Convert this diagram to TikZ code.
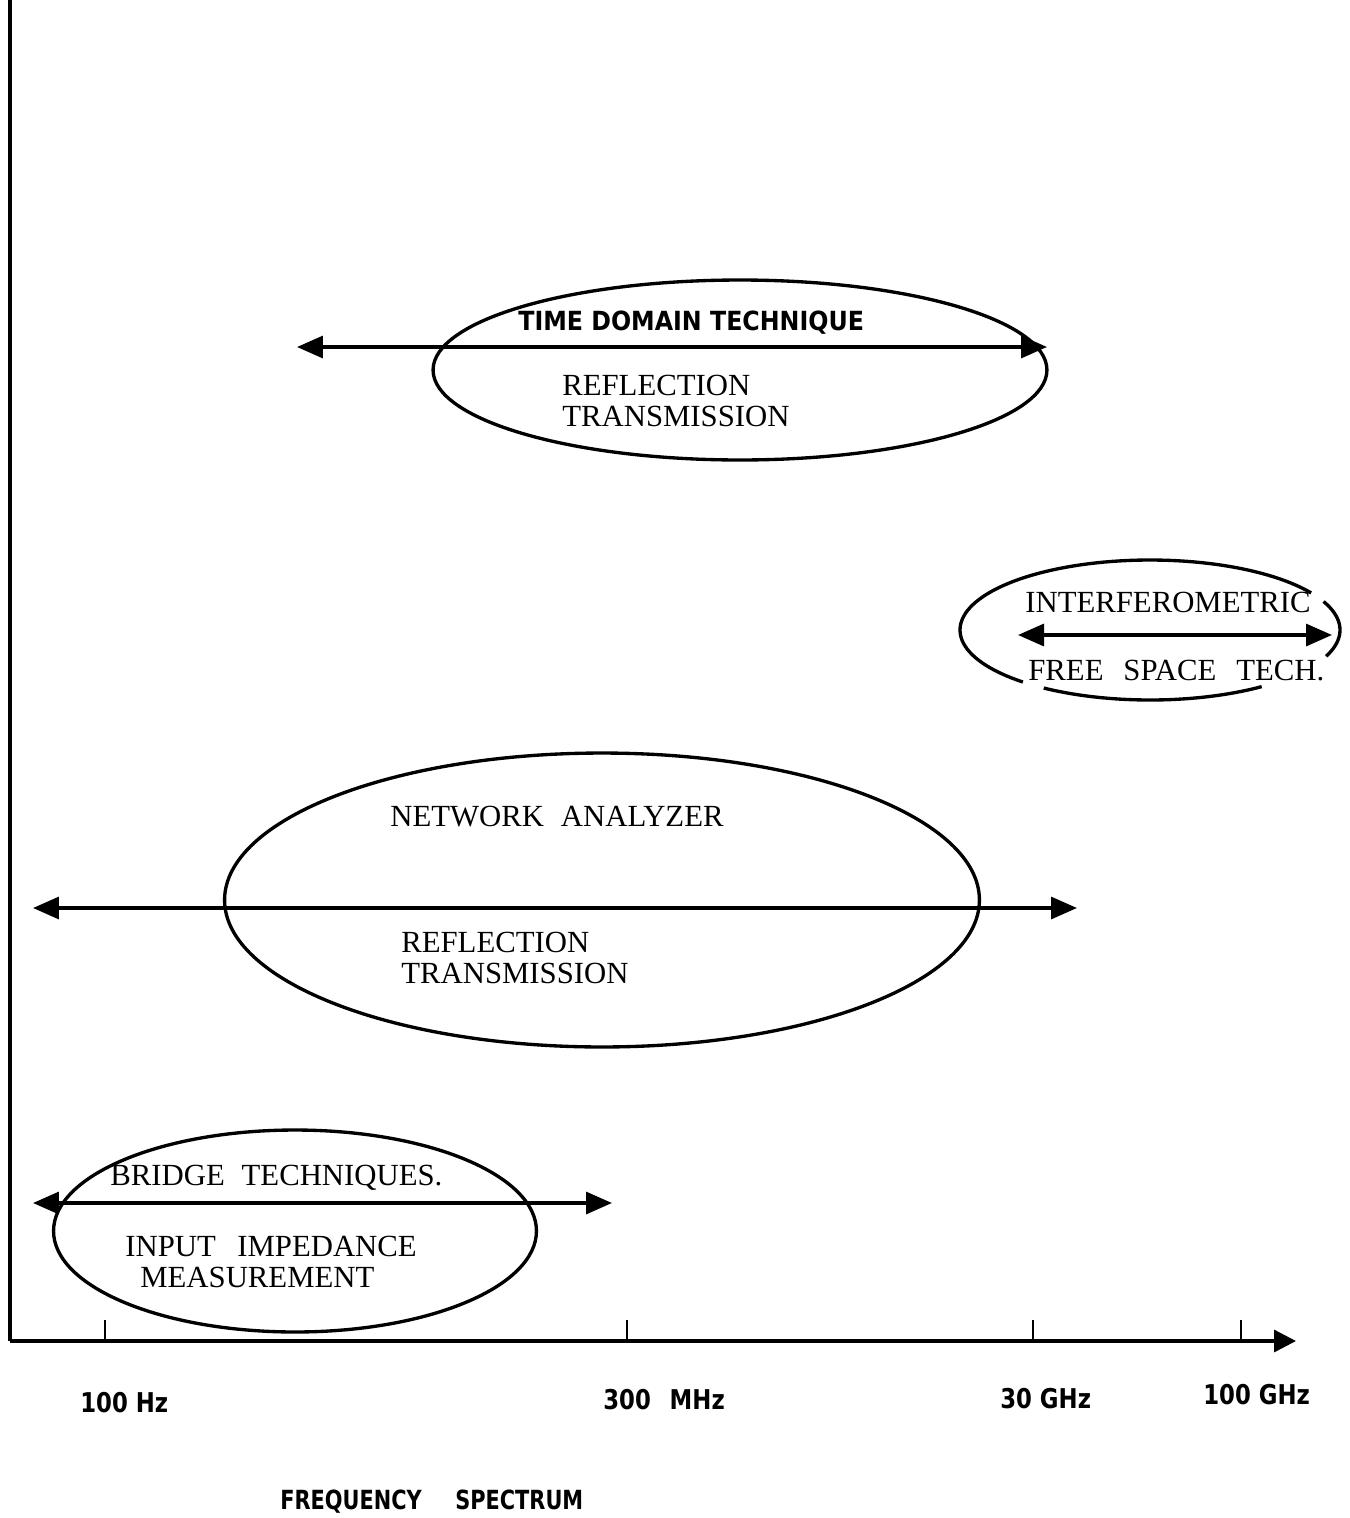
\documentclass[tikz,border=0pt]{standalone}
\usepackage{fontspec}
\setmainfont{Liberation Serif}
\newfontfamily\condfont{DejaVu Sans Condensed}
\newfontfamily\condnarrow{DejaVu Sans Condensed}[FakeStretch=0.93]
\newfontfamily\condtitle{DejaVu Sans Condensed}[FakeStretch=0.88]
\usetikzlibrary{arrows.meta,shapes.geometric}
\begin{document}
\begin{tikzpicture}[x=0.02cm,y=-0.02cm,
  serif/.style={font=\fontsize{17.5}{20}\selectfont, anchor=base west, inner sep=0pt},
  cond/.style={font=\condfont\bfseries\fontsize{15}{18}\selectfont, anchor=base west, inner sep=0pt},
  condax/.style={font=\condnarrow\bfseries\fontsize{15.5}{18}\selectfont, anchor=base west, inner sep=0pt},
  condti/.style={font=\condtitle\bfseries\fontsize{15}{18}\selectfont, anchor=base west, inner sep=0pt},
  ell/.style={draw, ellipse, inner sep=0pt, line width=1.9pt},
  arc/.style={line width=1.9pt},
  dbl/.style={{Triangle[length=0.52cm,width=0.44cm]}-{Triangle[length=0.52cm,width=0.44cm]}, line width=1.9pt},
  axis/.style={line width=1.9pt},
  tick/.style={line width=1.4pt}]
\useasboundingbox (0,0) rectangle (1349,1518);

% axes
\coordinate (ytop) at (10,0);
\coordinate (orig) at (10,1341);
\coordinate (xend) at (1296,1341);
\draw[axis] (ytop) -- (orig);
\draw[axis, -{Triangle[length=0.44cm,width=0.44cm]}] (orig) -- (xend);
\coordinate (t1) at (105,1341);
\coordinate (t2) at (627,1341);
\coordinate (t3) at (1033,1341);
\coordinate (t4) at (1241,1341);
\foreach \t in {t1,t2,t3,t4} \draw[tick] (\t) -- ++(0,-21);

% time domain
\node[ell, minimum width=12.28cm, minimum height=3.6cm] (td) at (740,370) {};
\coordinate (tdL) at (297,347);
\coordinate (tdR) at (1047,347);
\draw[dbl] (tdL) -- (tdR);
\node[cond] (tdT) at (518,330) {TIME DOMAIN TECHNIQUE};
\node[serif] (tdA) at (562,395) {REFLECTION};
\node[serif] (tdB) at (562,426) {TRANSMISSION};

% interferometric
\coordinate (ifc) at (1150,630);
\draw[arc] plot[domain=32:228, samples=80] ({1150+190*cos(\x)},{630-70*sin(\x)});
\draw[arc] plot[domain=236:306, samples=40] ({1150+190*cos(\x)},{630-70*sin(\x)});
\draw[arc] plot[domain=-22:24, samples=20] ({1150+190*cos(\x)},{630-70*sin(\x)});
\coordinate (ifL) at (1018,635);
\coordinate (ifR) at (1332,635);
\draw[dbl] (ifL) -- (ifR);
\node[serif] (ifA) at (1025,612) {INTERFEROMETRIC};
\node[serif] (ifB) at (1028,680) {FREE\hspace{0.4em} SPACE\hspace{0.4em} TECH.};

% network analyzer
\node[ell, minimum width=15.1cm, minimum height=5.88cm] (na) at (602,900) {};
\coordinate (naL) at (33,908);
\coordinate (naR) at (1077,908);
\draw[dbl] (naL) -- (naR);
\node[serif] (naT) at (390,826) {NETWORK\hspace{0.3em} ANALYZER};
\node[serif] (naA) at (401,952) {REFLECTION};
\node[serif] (naB) at (401,983) {TRANSMISSION};

% bridge
\node[ell, minimum width=9.66cm, minimum height=4.04cm] (br) at (295,1231) {};
\coordinate (brL) at (33,1203);
\coordinate (brR) at (612,1203);
\draw[dbl] (brL) -- (brR);
\node[serif] (brT) at (110,1185) {BRIDGE\hspace{0.3em} TECHNIQUES.};
\node[serif] (brA) at (125,1256) {INPUT\hspace{0.45em} IMPEDANCE};
\node[serif] (brB) at (140,1287) {MEASUREMENT};

% axis labels
\node[condax] (l1) at (80,1412) {100 Hz};
\node[condax] (l2) at (603,1409) {300\hspace{0.4em} MHz};
\node[condax] (l3) at (1000,1408) {30 GHz};
\node[condax] (l4) at (1203,1404) {100 GHz};
\node[condti] (ttl) at (280,1509) {FREQUENCY\hspace{1.0em} SPECTRUM};
\end{tikzpicture}
\end{document}
